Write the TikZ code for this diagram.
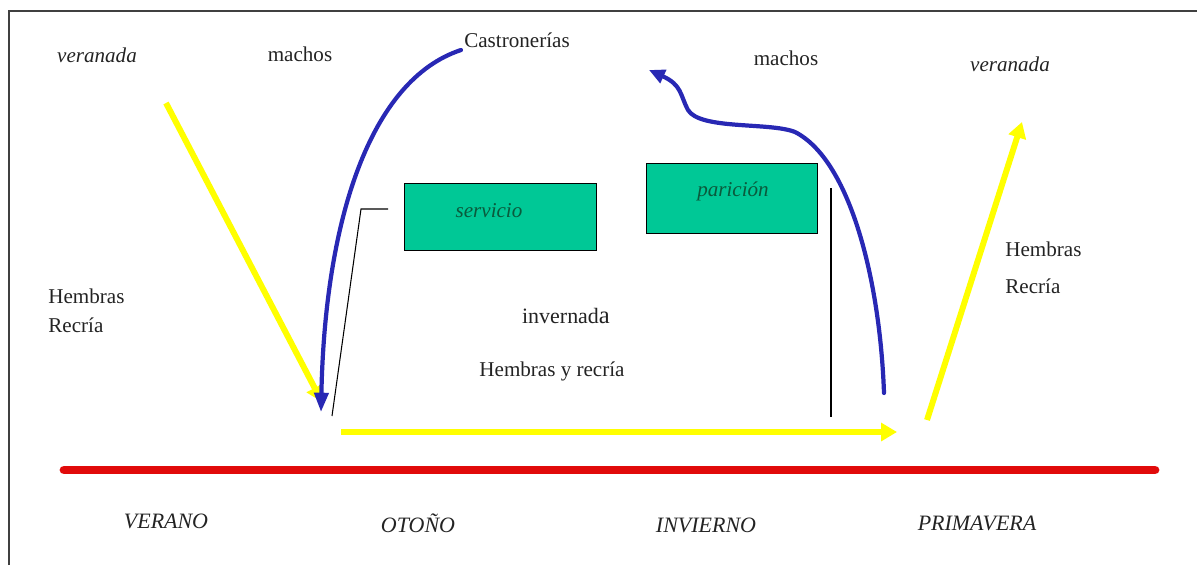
\documentclass[tikz,border=0pt]{standalone}
\usepackage{fontspec}
\setmainfont{Liberation Serif}
\usetikzlibrary{arrows.meta}
\definecolor{boxgreen}{RGB}{0,200,150}
\definecolor{boxtext}{RGB}{10,90,60}
\definecolor{txt}{RGB}{35,35,35}
\definecolor{bluearr}{RGB}{40,40,180}
\definecolor{yel}{RGB}{255,255,0}
\definecolor{redline}{RGB}{225,10,10}
\tikzset{
  lbl/.style={text=txt,font=\fontsize{12}{14}\selectfont,inner sep=0pt},
  ilbl/.style={lbl,font=\fontsize{12}{14}\selectfont\itshape},
  season/.style={lbl,font=\fontsize{12.5}{14}\selectfont\itshape},
  phase/.style={draw=black,line width=0.8pt,fill=boxgreen,inner sep=0pt},
  phasetxt/.style={text=boxtext,font=\fontsize{12}{14}\selectfont\itshape,inner sep=0pt},
  bluecurve/.style={draw=bluearr,line width=2.4pt,line cap=round},
  yelarrow/.style={draw=yel,line width=3.4pt,-{Triangle[length=9pt,width=10pt]}},
  thin/.style={draw=black,line width=0.6pt}
}
\begin{document}
\begin{tikzpicture}[x=0.02cm,y=-0.02cm]
\useasboundingbox (0,0) rectangle (1197,565);
% frame
\draw[line width=1pt,draw=black!75] (9,565) -- (9,11) -- (1197,11);

% labels
\node[ilbl] (ver1) at (97,55) {veranada};
\node[lbl] (mach1) at (300,54) {machos};
\node[lbl] (castr) at (517,40) {Castronerías};
\node[lbl] (mach2) at (786,58) {machos};
\node[ilbl] (ver2) at (1010,64) {veranada};
\node[lbl,anchor=west] (hem1) at (48,296) {Hembras};
\node[lbl,anchor=west] (rec1) at (48,325) {Recría};
\node[lbl,anchor=west] (hem2) at (1005,249) {Hembras};
\node[lbl,anchor=west] (rec2) at (1005,286) {Recría};
\node[lbl,font=\fontsize{12.5}{14}\selectfont] (inv) at (566,316) {invernad{\fontsize{14}{14}\selectfont a}};
\node[lbl] (hyr) at (552,371) {Hembras y recría};

% boxes
\node[phase,anchor=north west,minimum width=3.84cm,minimum height=1.34cm] (serv) at (404,183) {};
\node[phasetxt] (servt) at (489,211) {servicio};
\node[phase,anchor=north west,minimum width=3.42cm,minimum height=1.40cm] (par) at (646,163) {};
\node[phasetxt] (part) at (733,191) {parición};

% thin black lines
\coordinate (s1) at (388,209);
\coordinate (s2) at (361,209);
\coordinate (s3) at (332,416);
\draw[thin] (s1) -- (s2) -- (s3);
\coordinate (v1) at (831,188);
\coordinate (v2) at (831,417);
\draw[thin] (v1) -- (v2);

% red timeline
\coordinate (r1) at (64,470);
\coordinate (r2) at (1155,470);
\draw[draw=redline,line width=5pt,line cap=round] (r1) -- (r2);

% yellow arrows
\coordinate (y1a) at (166,103);
\coordinate (y1b) at (322,402);
\draw[yelarrow] (y1a) -- (y1b);
\coordinate (y2a) at (341,432);
\coordinate (y2b) at (897,432);
\draw[yelarrow] (y2a) -- (y2b);
\coordinate (y3a) at (927,420);
\coordinate (y3b) at (1022,122);
\draw[yelarrow] (y3a) -- (y3b);

% blue curves
\coordinate (b1s) at (461,50);
\coordinate (b1e) at (321,412);
\draw[bluecurve,-{Triangle[length=11pt,width=8pt]}] (b1s) .. controls (370,80) and (325,220) .. (b1e);
\coordinate (b2s) at (884,393);
\coordinate (b2e) at (649,70);
\draw[bluecurve,-{Triangle[length=9pt,width=8pt]}] (b2s) .. controls (880,280) and (850,160) .. (795,132)
  .. controls (770,122) and (700,130) .. (688,110)
  .. controls (680,95) and (682,85) .. (b2e);

% seasons
\node[season] (verano) at (166,521) {VERANO};
\node[season] (otono) at (418,523) {OTOÑO};
\node[season] (invierno) at (706,525) {INVIERNO};
\node[season] (primavera) at (977,523) {PRIMAVERA};
\end{tikzpicture}
\end{document}
